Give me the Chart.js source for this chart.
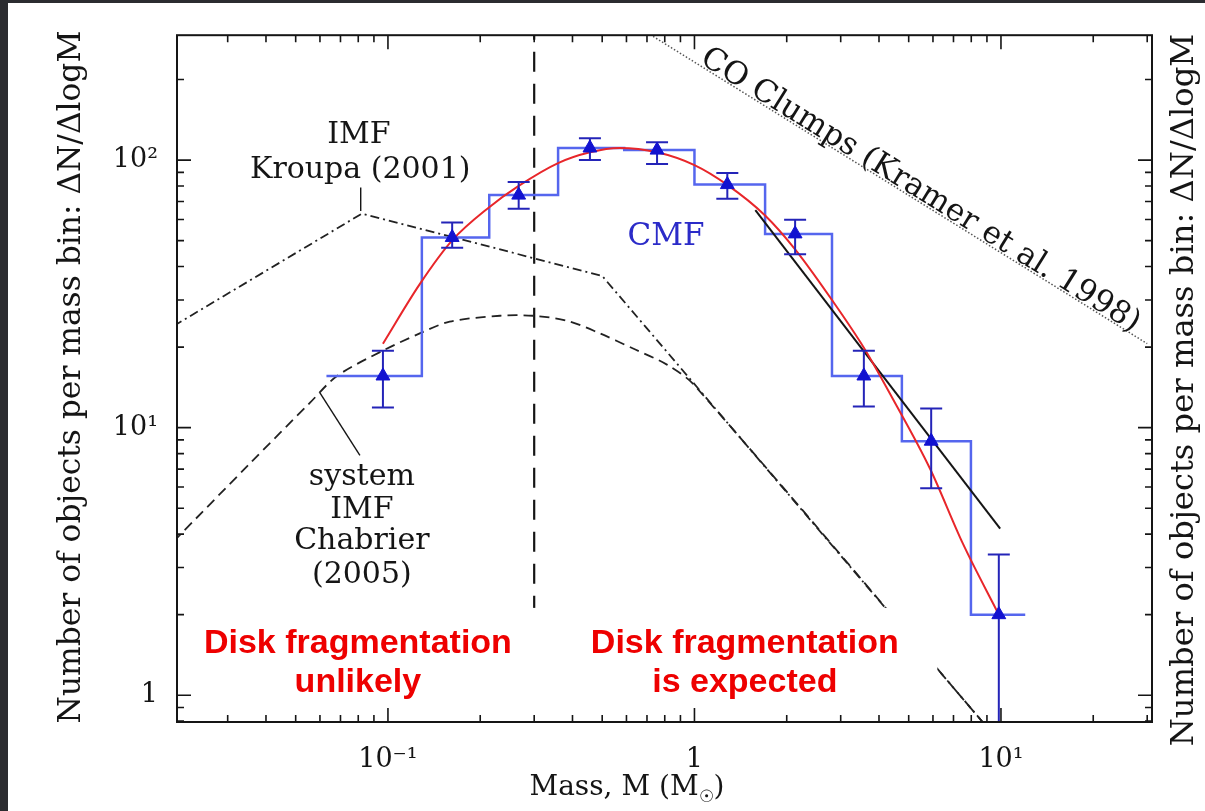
<!DOCTYPE html>
<html>
<head>
<meta charset="utf-8">
<script src="https://cdn.jsdelivr.net/npm/chart.js@4.4.1/dist/chart.umd.min.js"></script>
<style>
  html, body { margin: 0; padding: 0; background: #2b2c30; overflow: hidden; }
  canvas { display: block; }
</style>
</head>
<body>
<canvas id="cmf" width="1205" height="811"></canvas>
<script>
// CMF histogram: bin edges (M_sun) and dN/dlogM per bin
const binEdges = [0.063, 0.129, 0.214, 0.359, 0.59, 1.0, 1.70, 2.81, 4.75, 7.98, 12.0];
const binValues = [15.6, 51.4, 74, 111, 109, 81, 53, 15.6, 8.9, 2.0];

// data points with error bars
const pointMass = [0.0963, 0.162, 0.267, 0.456, 0.755, 1.28, 2.13, 3.57, 5.92, 9.84];
const pointValue = [15.6, 51.4, 74, 111, 109, 81, 53, 15.6, 8.9, 2.0];
const errLow = [11.9, 47.0, 65.8, 100, 96.7, 71.7, 44.5, 12.0, 5.94, 0.59];
const errHigh = [19.4, 58.4, 82.9, 120.6, 116.6, 89.5, 59.9, 19.4, 11.8, 3.36];

// lognormal fit (red)
const fitMass = [0.0963, 0.127, 0.162, 0.213, 0.267, 0.359, 0.456, 0.570, 0.755, 1.00, 1.28, 1.70, 2.13, 2.81, 3.57, 4.44, 5.86, 7.50, 9.84];
const fitValue = [20.6, 34.4, 50.1, 66.4, 80.1, 97.5, 107, 111, 107, 95.8, 80.8, 62.1, 46.4, 30.0, 19.9, 12.8, 7.05, 3.7, 2.0];

// power law fit (black)
const powMass = [1.58, 9.94];
const powValue = [65, 4.19];

// Kroupa (2001) IMF
const kroupaMass = [0.02, 0.0822, 0.5, 10];
const kroupaValue = [24, 63.1, 36.9, 0.66];

// Chabrier (2005) system IMF
const chabMass = [0.02, 0.0355, 0.0557, 0.0682, 0.0963, 0.127, 0.159, 0.232, 0.297, 0.384, 0.492, 0.628, 0.813, 1.0, 10];
const chabValue = [3.76, 7.36, 12.4, 15.6, 19.4, 22.5, 24.9, 26.2, 26.2, 25.1, 22.5, 19.8, 17.2, 14.4, 0.66];

// CO clumps (Kramer et al. 1998)
const coMass = [0.733, 30];
const coValue = [290, 20.6];

// disk fragmentation boundary
const boundaryMass = 0.3;

// tick labels
const xTickValues = [0.1, 1, 10];
const xTickText = ['10\u207B\u00B9', '1', '10\u00B9'];
const yTickValues = [1, 10, 100];
const yTickText = ['1', '10\u00B9', '10\u00B2'];

const serif = '"DejaVu Serif", "Liberation Serif", serif';
const sans = '"Liberation Sans", Arial, sans-serif';

function pairs(xs, ys) {
    return xs.map((v, i) => ({ x: v, y: ys[i] }));
}

function tickLabel(values, texts) {
    return function (v) {
        for (let i = 0; i < values.length; i++) {
            if (Math.abs(Math.log10(v) - Math.log10(values[i])) < 1e-6) return texts[i];
        }
        return '';
    };
}

// histogram as a stepped line: last edge repeats the last value
let histData = binValues.map((v, i) => ({ x: binEdges[i], y: v }));
histData.push({ x: binEdges[binEdges.length - 1], y: binValues[binValues.length - 1] });

let errorSets = pointMass.map((m, i) => ({
    data: [{ x: m, y: errLow[i] }, { x: m, y: errHigh[i] }],
    showLine: true,
    borderColor: '#2424b8',
    borderWidth: 2,
    pointStyle: 'line',
    pointRadius: 11,
    pointHoverRadius: 11,
    pointBorderColor: '#2424b8',
    pointBorderWidth: 2
}));

// text notes in data coordinates
const notes = [
    { text: 'IMF', m: 0.0804, n: 124, size: 30, color: '#151515', font: serif },
    { text: 'Kroupa (2001)', m: 0.0812, n: 92, size: 30, color: '#151515', font: serif },
    { text: 'system', m: 0.0822, n: 6.53, size: 30, color: '#151515', font: serif },
    { text: 'IMF', m: 0.0822, n: 4.93, size: 30, color: '#151515', font: serif },
    { text: 'Chabrier', m: 0.0822, n: 3.75, size: 30, color: '#151515', font: serif },
    { text: '(2005)', m: 0.0822, n: 2.81, size: 30, color: '#151515', font: serif },
    { text: 'CMF', m: 0.807, n: 51.4, size: 31, color: '#2b2bc8', font: serif }
];

const redNotes = [
    { text: 'Disk fragmentation', m: 0.0798, n: 1.443 },
    { text: 'unlikely', m: 0.0798, n: 1.026 },
    { text: 'Disk fragmentation', m: 1.46, n: 1.443 },
    { text: 'is expected', m: 1.46, n: 1.026 }
];

// white panel behind the red notes (data coordinates)
const panel = { m0: 0.0226, m1: 6.2, n0: 0.865, n1: 2.12 };

const yTitle = 'Number of objects per mass bin: \u0394N/\u0394logM';

function fitFont(ctx, text, family, target) {
    ctx.font = '100px ' + family;
    return 100 * target / ctx.measureText(text).width;
}

const decorPlugin = {
    id: 'decor',
    beforeDraw(chart) {
        const c = chart.ctx;
        c.save();
        c.fillStyle = '#2b2c30';
        c.fillRect(0, 0, chart.width, chart.height);
        c.fillStyle = '#ffffff';
        c.fillRect(8, 3, chart.width - 8, chart.height - 3);
        c.restore();
    },
    afterDatasetsDraw(chart) {
        const c = chart.ctx;
        const x = chart.scales.x, y = chart.scales.y;
        c.save();

        // white panel
        let px0 = x.getPixelForValue(panel.m0), px1 = x.getPixelForValue(panel.m1);
        let py0 = y.getPixelForValue(panel.n1), py1 = y.getPixelForValue(panel.n0);
        c.fillStyle = '#ffffff';
        c.fillRect(px0, py0, px1 - px0, py1 - py0);

        // red notes
        c.fillStyle = '#ee0000';
        c.font = 'bold 34px ' + sans;
        c.textAlign = 'center';
        c.textBaseline = 'alphabetic';
        redNotes.forEach(r => c.fillText(r.text, x.getPixelForValue(r.m), y.getPixelForValue(r.n)));

        // black / blue notes
        c.textBaseline = 'middle';
        notes.forEach(t => {
            c.font = t.size + 'px ' + t.font;
            c.fillStyle = t.color;
            c.fillText(t.text, x.getPixelForValue(t.m), y.getPixelForValue(t.n));
        });

        // CO clumps label along its line
        let ax = x.getPixelForValue(coMass[0]), ay = y.getPixelForValue(coValue[0]);
        let bx = x.getPixelForValue(coMass[1]), by = y.getPixelForValue(coValue[1]);
        let ang = Math.atan2(by - ay, bx - ax);
        let t = 0.53;
        let cx = ax + t * (bx - ax), cy = ay + t * (by - ay);
        const coText = 'CO Clumps (Kramer et al. 1998)';
        let size = fitFont(c, coText, serif, 512);
        c.translate(cx, cy);
        c.rotate(ang);
        c.font = size.toFixed(1) + 'px ' + serif;
        c.fillStyle = '#151515';
        c.textBaseline = 'alphabetic';
        c.fillText(coText, 0, -2);
        c.restore();
    },
    afterDraw(chart) {
        const c = chart.ctx;
        const a = chart.chartArea;
        const x = chart.scales.x, y = chart.scales.y;
        c.save();
        c.strokeStyle = '#151515';
        c.lineWidth = 2;
        c.strokeRect(a.left, a.top, a.right - a.left, a.bottom - a.top);

        // inward ticks on all four sides
        c.lineWidth = 1.6;
        c.beginPath();
        for (let e = -2; e <= 2; e++) {
            for (let k = 1; k <= 9; k++) {
                const v = k * Math.pow(10, e);
                const len = k === 1 ? 14 : 7;
                if (v > x.min && v < x.max) {
                    const px = x.getPixelForValue(v);
                    c.moveTo(px, a.bottom); c.lineTo(px, a.bottom - len);
                    c.moveTo(px, a.top); c.lineTo(px, a.top + len);
                }
                if (v > y.min && v < y.max) {
                    const py = y.getPixelForValue(v);
                    c.moveTo(a.left, py); c.lineTo(a.left + len, py);
                    c.moveTo(a.right, py); c.lineTo(a.right - len, py);
                }
            }
        }
        c.stroke();

        // axis titles
        c.fillStyle = '#151515';
        c.textBaseline = 'alphabetic';
        c.textAlign = 'center';
        let ls = fitFont(c, yTitle, serif, 694);
        c.save();
        c.translate(80, 377);
        c.rotate(-Math.PI / 2);
        c.font = ls.toFixed(1) + 'px ' + serif;
        c.fillText(yTitle, 0, 0);
        c.restore();

        let rs = fitFont(c, yTitle, serif, 714);
        c.save();
        c.translate(1193, 390);
        c.rotate(-Math.PI / 2);
        c.font = rs.toFixed(1) + 'px ' + serif;
        c.fillText(yTitle, 0, 0);
        c.restore();

        // Mass, M (M_sun)
        c.textAlign = 'left';
        c.font = '28px ' + serif;
        const partA = 'Mass, M (M';
        const wA = c.measureText(partA).width;
        c.font = '17px ' + serif;
        const wSun = c.measureText('\u2609').width;
        c.font = '28px ' + serif;
        const wC = c.measureText(')').width;
        let sx = 627 - (wA + wSun + wC) / 2;
        c.fillText(partA, sx, 795);
        c.font = '17px ' + serif;
        c.fillText('\u2609', sx + wA, 802);
        c.font = '28px ' + serif;
        c.fillText(')', sx + wA + wSun, 795);
        c.restore();
    }
};

const ctx = document.getElementById('cmf').getContext('2d');

new Chart(ctx, {
    type: 'scatter',
    data: {
        datasets: [
            {
                // triangles
                data: pairs(pointMass, pointValue),
                pointStyle: 'triangle',
                pointRadius: 8,
                pointHoverRadius: 8,
                backgroundColor: '#1212d0',
                borderColor: '#1212d0',
                borderWidth: 1
            },
            ...errorSets,
            {
                // lognormal fit
                data: pairs(fitMass, fitValue),
                showLine: true,
                borderColor: '#e8262a',
                borderWidth: 2,
                cubicInterpolationMode: 'monotone',
                pointRadius: 0
            },
            {
                // power law
                data: pairs(powMass, powValue),
                showLine: true,
                borderColor: '#151515',
                borderWidth: 2,
                pointRadius: 0
            },
            {
                // CMF histogram
                data: histData,
                showLine: true,
                stepped: 'before',
                borderColor: '#5566ee',
                borderWidth: 2.5,
                pointRadius: 0
            },
            {
                // Kroupa IMF
                data: pairs(kroupaMass, kroupaValue),
                showLine: true,
                borderColor: '#222',
                borderWidth: 1.8,
                borderDash: [9, 4, 2, 4],
                pointRadius: 0
            },
            {
                // Chabrier system IMF
                data: pairs(chabMass, chabValue),
                showLine: true,
                borderColor: '#222',
                borderWidth: 1.8,
                borderDash: [10, 6],
                tension: 0.3,
                pointRadius: 0
            },
            {
                // CO clumps
                data: pairs(coMass, coValue),
                showLine: true,
                borderColor: '#555',
                borderWidth: 1.5,
                borderDash: [1.5, 2],
                pointRadius: 0
            },
            {
                // fragmentation boundary
                data: [{ x: boundaryMass, y: 0.5 }, { x: boundaryMass, y: 500 }],
                showLine: true,
                borderColor: '#151515',
                borderWidth: 2.2,
                borderDash: [20, 12],
                pointRadius: 0
            },
            {
                // leader to Kroupa label
                data: [{ x: 0.0815, y: 79 }, { x: 0.0815, y: 64.5 }],
                showLine: true,
                borderColor: '#151515',
                borderWidth: 1.4,
                pointRadius: 0
            },
            {
                // leader to Chabrier label
                data: [{ x: 0.060, y: 13.5 }, { x: 0.081, y: 7.87 }],
                showLine: true,
                borderColor: '#151515',
                borderWidth: 1.4,
                pointRadius: 0
            }
        ]
    },
    options: {
        responsive: false,
        animation: false,
        devicePixelRatio: 1,
        layout: { padding: { left: 0, top: 31, right: 53, bottom: 0 } },
        plugins: { legend: { display: false }, tooltip: { enabled: false } },
        scales: {
            x: {
                type: 'logarithmic',
                position: 'bottom',
                min: 0.0205,
                max: 31.1,
                grid: { display: false, drawTicks: false },
                border: { display: false },
                ticks: {
                    autoSkip: false,
                    maxRotation: 0,
                    padding: 22,
                    color: '#151515',
                    font: { family: serif, size: 27 },
                    callback: tickLabel(xTickValues, xTickText)
                },
                afterFit: s => { s.height = 89; }
            },
            y: {
                type: 'logarithmic',
                position: 'left',
                min: 0.794,
                max: 293,
                grid: { display: false, drawTicks: false },
                border: { display: false },
                ticks: {
                    autoSkip: false,
                    padding: 19,
                    color: '#151515',
                    font: { family: serif, size: 27 },
                    callback: tickLabel(yTickValues, yTickText)
                },
                afterFit: s => { s.width = 177; }
            }
        }
    },
    plugins: [decorPlugin]
});
</script>
</body>
</html>
